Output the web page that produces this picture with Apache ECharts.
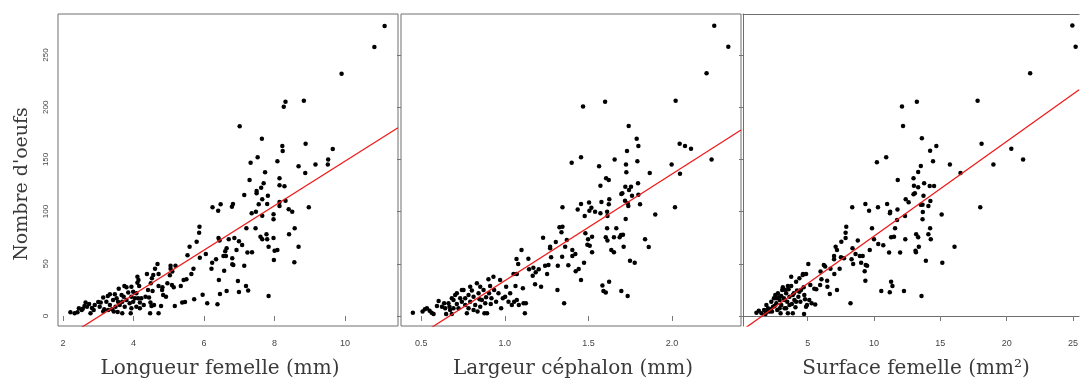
<!DOCTYPE html>
<html><head><meta charset="utf-8">
<script src="https://cdn.jsdelivr.net/npm/echarts@6/dist/echarts.min.js"></script>
<style>html,body{margin:0;padding:0;background:#fff}#c{width:1081px;height:381px}</style>
</head><body><div id="c"></div>
<script>
// ---------- data ----------
const yTicks = [0, 50, 100, 150, 200, 250];
const xTicksLongueur = [2, 4, 6, 8, 10];
const xTicksLargeur = [0.5, 1.0, 1.5, 2.0];
const xTicksSurface = [5, 10, 15, 20, 25];
const xTitles = ['Longueur femelle (mm)', 'Largeur céphalon (mm)', 'Surface femelle (mm²)'];
const yTitle = "Nombre d'oeufs";
// regression lines: [intercept, slope]
const fitLongueur = [-64.8, 21.32];
const fitLargeur = [-68.4, 102.2];
const fitSurface = [-14.25, 9.07];

const longueurPts = [
[11.12,277.8],[10.83,257.7],[9.90,232.1],[8.83,206.3],[8.31,205.3],[8.26,200.5],[7.01,181.7],[7.64,169.9],[8.88,165.1],[8.22,162.8],[8.23,158.1],[9.65,160.0],[7.52,152.0],[9.52,149.8],[8.08,148.2],[7.32,146.9],[9.16,145.0],[9.51,145.0],[8.68,143.4],[7.73,137.6],[8.87,137.0],[8.14,131.9],[7.29,130.3],[7.69,127.1],[8.14,125.2],[8.28,124.2],[7.62,122.9],[7.49,119.7],[7.49,117.5],[7.14,115.9],[7.81,115.3],[8.31,110.5],[7.65,111.8],[8.14,109.2],[8.14,105.4],[7.79,107.3],[7.55,107.0],[6.47,107.0],[6.82,107.3],[6.79,104.7],[6.24,104.1],[6.40,100.9],[8.40,102.2],[8.50,99.9],[8.97,104.1],[7.47,99.9],[7.35,98.3],[7.65,96.1],[7.97,97.4],[7.97,92.6],[7.20,84.0],[7.46,84.0],[8.57,84.0],[5.87,85.6],[5.86,79.8],[5.79,71.2],[5.59,66.4],[8.68,66.4],[7.83,66.4],[8.41,78.2],[7.77,78.2],[7.60,76.0],[7.65,73.4],[7.79,73.4],[7.97,74.7],[6.70,73.4],[6.86,74.7],[6.99,71.5],[6.41,74.7],[6.44,72.2],[7.08,68.0],[6.64,64.8],[6.92,63.2],[6.60,61.9],[7.23,60.7],[7.36,61.0],[8.00,62.6],[8.08,63.2],[6.55,57.5],[6.62,57.5],[5.53,58.1],[6.05,59.4],[5.88,55.9],[6.34,54.3],[6.80,55.2],[6.23,51.1],[6.80,49.5],[6.83,48.9],[7.98,53.6],[8.56,51.4],[7.14,48.2],[5.70,45.3],[6.21,45.3],[5.64,40.2],[6.57,43.4],[5.42,34.5],[5.50,35.1],[6.42,34.5],[6.96,33.5],[7.19,28.7],[7.25,24.3],[6.64,23.9],[6.99,23.0],[6.45,21.1],[7.83,19.2],[5.96,20.4],[5.72,16.0],[6.09,12.1],[6.38,11.2],[5.46,13.4],[5.38,12.8],[5.17,9.6],
[4.61,45.3],[4.68,49.8],[5.05,48.2],[5.05,45.3],[5.19,48.2],[5.10,42.5],[5.03,39.0],[4.38,40.2],[4.71,40.2],[4.56,39.3],[4.52,36.1],[4.11,37.7],[4.14,34.5],[4.11,31.9],[4.49,31.3],[4.96,31.3],[5.09,29.7],[5.34,28.7],[4.71,28.7],[4.82,27.5],[5.14,27.5],[4.81,24.9],[4.54,23.9],[4.41,24.9],[4.16,28.7],[3.94,28.1],[3.74,28.7],[3.80,27.5],[3.58,26.2],[3.33,20.8],[3.47,20.8],[3.27,19.2],[3.14,17.6],[3.00,13.4],[3.07,12.8],[2.74,11.5],[2.64,12.8],[2.87,5.7],[2.78,2.6],[2.21,3.5],[2.33,2.6],[2.41,3.5],[2.45,7.3],[2.53,5.7],[2.61,9.6],[2.68,8.9],[2.82,7.7],[2.56,7.0],[3.04,8.9],[3.17,6.4],[3.28,5.7],[3.39,6.4],[3.55,3.8],[3.68,2.6],[3.92,2.6],[3.49,8.9],[3.61,10.5],[3.68,13.7],[3.80,15.3],[3.89,12.1],[3.99,13.7],[4.04,16.9],[4.08,8.9],[4.18,12.8],[4.29,10.5],[4.44,17.6],[4.48,12.8],[4.51,9.6],[4.58,10.5],[4.47,2.6],[4.71,2.6],[4.78,9.6],[4.84,20.1],[4.92,18.5],[3.42,15.3],[3.52,16.9],[3.66,20.1],[3.85,22.4],[3.99,23.3],[4.08,21.7],[4.22,16.9],[4.34,18.5],[3.72,18.5],[3.23,13.7],[2.90,10.5],[3.56,13.7],[3.94,18.5],[4.13,16.9],[3.33,10.5],[3.75,8.9],[3.94,7.3],[4.18,7.3],[3.44,4.2],[3.14,4.2]
];

const largeurPts = [
[2.253,278.1],[2.337,258.0],[2.207,232.5],[2.022,206.3],[1.600,205.3],[1.468,200.8],[1.741,182.0],[1.789,169.9],[1.799,162.8],[2.046,165.1],[2.078,162.8],[2.114,160.3],[1.731,158.1],[1.456,152.0],[1.657,149.8],[1.793,148.2],[1.400,146.9],[1.998,145.0],[1.725,145.0],[1.564,143.4],[2.237,149.8],[1.727,137.6],[1.867,137.0],[2.048,136.3],[1.606,131.9],[1.622,130.3],[1.797,127.1],[1.572,124.8],[1.721,123.9],[1.755,123.9],[1.743,120.7],[1.703,117.5],[1.697,116.9],[1.761,115.3],[1.799,116.2],[1.625,111.8],[1.578,109.2],[1.456,107.3],[1.504,108.6],[1.719,110.5],[1.735,108.0],[1.739,105.4],[1.809,107.0],[1.622,107.0],[1.436,101.9],[1.345,104.1],[1.518,103.8],[1.506,100.9],[1.540,99.9],[1.572,98.3],[1.612,99.9],[1.614,95.8],[1.478,95.8],[1.900,97.1],[2.018,104.1],[1.723,92.9],[1.327,84.9],[1.345,85.6],[1.612,84.0],[1.667,84.0],[1.339,80.1],[1.482,79.2],[1.707,77.9],[1.695,77.6],[1.687,75.4],[1.653,75.4],[1.604,75.4],[1.522,76.0],[1.498,73.4],[1.229,75.0],[1.305,70.9],[1.371,72.8],[1.614,72.2],[1.494,68.3],[1.508,67.4],[1.271,66.4],[1.271,64.8],[1.361,66.4],[1.711,66.4],[1.839,73.4],[1.861,66.1],[1.637,63.2],[1.653,61.0],[1.100,63.2],[1.404,63.2],[1.522,61.0],[1.422,59.4],[1.404,57.5],[1.277,56.2],[1.343,56.8],[1.070,54.6],[1.141,54.9],[1.261,48.9],[1.241,48.2],[1.080,49.8],[1.749,53.0],[1.777,51.1],[1.317,48.2],[1.380,48.5],[1.474,51.1],[1.171,46.3],[1.145,44.7],[1.203,44.7],[1.185,41.8],[1.167,38.6],[1.253,40.2],[1.424,42.8],[1.442,45.0],[1.052,40.2],[1.072,40.2],[1.456,34.5],[1.181,30.3],[1.217,28.1],[1.315,24.9],[1.584,29.1],[1.624,32.9],[1.590,23.9],[1.604,22.4],[1.697,23.9],[1.735,19.2],[1.355,12.1],[1.120,2.6],[1.112,12.1],[1.126,12.1],
[0.450,3.2],[0.508,4.2],[0.522,6.4],[0.534,7.3],[0.550,5.1],[0.562,3.2],[0.574,1.9],[0.594,9.6],[0.604,14.4],[0.637,12.1],[0.643,7.3],[0.649,1.9],[0.663,12.1],[0.673,5.7],[0.683,1.9],[0.693,15.3],[0.703,20.1],[0.713,11.5],[0.723,7.3],[0.733,16.9],[0.743,13.7],[0.753,24.9],[0.763,16.9],[0.773,2.6],[0.783,20.1],[0.783,7.3],[0.793,13.7],[0.803,24.3],[0.813,18.5],[0.823,10.5],[0.833,31.3],[0.837,4.2],[0.843,21.7],[0.853,28.1],[0.863,15.3],[0.873,24.9],[0.878,2.6],[0.888,17.9],[0.894,2.6],[0.902,35.1],[0.906,21.7],[0.912,28.7],[0.916,11.5],[0.920,16.9],[0.932,37.7],[0.936,24.9],[0.948,13.7],[0.962,21.7],[0.972,34.5],[0.978,7.3],[0.988,16.9],[1.002,18.5],[1.008,28.1],[1.022,13.7],[1.032,21.7],[1.042,10.5],[1.056,13.7],[1.064,28.7],[1.072,15.3],[1.084,10.5],[1.108,26.5],[0.713,21.7],[0.743,24.9],[0.693,7.3],[0.813,5.7],[0.853,8.9],[0.883,12.1],[0.763,10.5],[0.669,8.9],[0.624,8.9],[0.683,16.9],[0.849,16.0],[0.793,28.1]
];

const surfacePts = [
[24.95,278.4],[25.20,258.0],[21.77,232.5],[17.81,206.3],[13.23,205.3],[12.11,200.8],[12.19,182.0],[13.61,170.2],[14.70,162.8],[18.11,165.1],[20.35,160.3],[14.23,158.4],[10.92,152.0],[10.22,147.2],[14.45,148.2],[15.72,145.0],[13.53,143.7],[21.24,149.8],[19.00,145.0],[13.33,137.9],[16.52,137.0],[12.98,131.9],[11.79,130.3],[13.78,127.1],[13.01,124.8],[13.33,123.3],[14.20,124.5],[14.53,124.5],[13.08,117.5],[12.98,116.5],[13.73,115.3],[12.39,111.8],[14.25,110.2],[12.61,108.9],[10.99,107.3],[9.35,107.3],[13.53,106.6],[13.66,106.6],[14.10,105.4],[8.36,104.1],[10.30,104.1],[18.01,104.1],[11.77,101.9],[11.22,99.9],[11.20,98.3],[9.63,100.9],[13.68,99.6],[12.34,95.8],[15.10,97.1],[13.66,92.6],[11.74,92.0],[7.91,85.6],[9.85,84.0],[11.59,84.0],[14.23,84.0],[7.86,79.8],[14.10,78.2],[13.18,78.2],[13.33,75.4],[11.29,75.4],[11.51,76.0],[14.28,73.4],[12.36,73.4],[7.86,74.7],[8.78,72.2],[10.00,73.4],[7.54,71.2],[10.32,69.0],[10.70,67.7],[7.11,66.4],[8.38,64.8],[16.07,66.4],[13.38,66.4],[7.21,63.2],[13.13,62.6],[9.68,63.2],[13.16,61.0],[11.14,60.7],[11.97,60.7],[8.61,59.4],[6.99,57.5],[8.93,57.5],[9.15,57.5],[7.51,56.2],[7.74,55.2],[6.99,54.3],[8.31,54.3],[13.91,53.0],[9.03,51.1],[8.43,49.8],[9.38,48.9],[9.48,48.2],[15.15,51.1],[5.05,49.8],[6.22,48.9],[6.32,47.3],[6.72,45.3],[7.41,45.3],[9.30,42.8],[5.97,42.5],[7.01,40.2],[4.65,40.2],[4.88,40.2],[9.35,33.8],[6.04,35.1],[6.47,33.8],[11.29,32.9],[5.94,29.7],[11.39,28.7],[6.49,28.1],[7.21,24.9],[10.55,23.9],[11.19,22.7],[12.26,23.9],[13.58,19.2],[6.67,21.1],[5.50,26.2],[5.65,25.5],[8.23,12.1],[4.73,1.9],[5.30,12.1],[5.57,10.9],
[1.14,3.2],[1.32,5.1],[1.52,2.6],[1.72,5.7],[1.82,1.9],[1.89,10.5],[2.01,7.3],[2.14,4.2],[2.26,13.7],[2.39,8.9],[2.46,16.9],[2.56,20.1],[2.64,12.1],[2.71,5.7],[2.76,21.7],[2.89,15.3],[2.96,2.6],[3.01,10.5],[3.08,24.9],[3.13,27.5],[3.21,16.9],[3.26,7.3],[3.38,21.7],[3.46,13.7],[3.51,2.6],[3.56,25.5],[3.63,18.5],[3.76,37.7],[3.81,11.5],[3.88,2.6],[3.96,21.7],[4.00,15.3],[4.08,8.3],[4.13,32.9],[4.20,24.3],[4.30,18.5],[4.38,36.1],[4.45,13.7],[4.63,39.3],[4.70,27.5],[4.80,16.0],[4.88,8.9],[4.95,10.5],[5.12,15.3],[5.20,29.7],[4.75,20.1],[4.38,23.3],[3.76,28.7],[3.51,28.7],[3.31,24.9],[3.01,19.2],[2.81,17.9],[2.51,9.6],[2.21,6.4],[1.97,4.2],[3.26,15.3],[3.63,10.5],[2.64,16.9],[4.13,13.7],[3.88,20.1],[4.50,24.9],[3.38,7.3],[2.89,7.3],[2.31,4.2]
];

// ---------- chart ----------
const BORDER = '#6e6e6e';
const panels = [
  {pts: longueurPts, ticks: xTicksLongueur, fit: fitLongueur, xmin: 1.858, xmax: 11.5, grid: {left: 58, top: 14, width: 340, height: 312}, box: true, showY: true, titleX: 220},
  {pts: largeurPts, ticks: xTicksLargeur, fit: fitLargeur, xmin: 0.379, xmax: 2.413, grid: {left: 401, top: 14, width: 340, height: 312}, box: true, showY: false, titleX: 573},
  {pts: surfacePts, ticks: xTicksSurface, fit: fitSurface, xmin: 0.127, xmax: 25.46, grid: {left: 743, top: 14, right: 0, height: 312}, box: false, showY: false, titleX: 916}
];
const yMin = -9.6, yMax = 289.3;
const labelFont = 'Liberation Sans, Arial, sans-serif';
const titleFont = 'DejaVu Serif, serif';
const titleColor = '#3a3a3a';

const xAxes = panels.map((p, i) => ({
  type: 'value', gridIndex: i, min: p.xmin, max: p.xmax, position: 'bottom',
  axisLine: {show: !p.box, lineStyle: {color: BORDER, width: 1}}, splitLine: {show: false},
  axisTick: {show: true, inside: false, length: 5, lineStyle: {color: '#777'}, customValues: p.ticks},
  axisLabel: {show: true, customValues: p.ticks, margin: 13, fontSize: 9, color: '#444', fontFamily: labelFont,
    formatter: v => (i === 1 ? v.toFixed(1) : String(v))}
}));
// top edge of the third (open-right) box
xAxes.push({type: 'value', gridIndex: 2, position: 'top', min: 0, max: 1,
  axisLine: {show: true, lineStyle: {color: BORDER, width: 1}}, axisTick: {show: false}, axisLabel: {show: false}, splitLine: {show: false}});

const option = {
  animation: false,
  backgroundColor: '#ffffff',
  grid: panels.map(p => Object.assign({show: p.box, borderColor: BORDER, borderWidth: 1, backgroundColor: 'transparent'}, p.grid)),
  xAxis: xAxes,
  yAxis: panels.map((p, i) => ({
    type: 'value', gridIndex: i, min: yMin, max: yMax,
    axisLine: {show: !p.box, lineStyle: {color: BORDER, width: 1}}, splitLine: {show: false},
    axisTick: {show: i > 0, inside: false, length: 4, lineStyle: {color: '#777'}, customValues: yTicks},
    axisLabel: {show: p.showY, customValues: yTicks, rotate: 90, margin: 8, fontSize: 8, color: '#444', fontFamily: labelFont}
  })),
  graphic: [].concat(
    panels.map((p, i) => ({
      type: 'text', x: p.titleX, y: 369, silent: true,
      style: {text: xTitles[i], font: '20px ' + titleFont, fill: titleColor, textAlign: 'center', textVerticalAlign: 'middle'}
    })),
    [{type: 'text', x: 22, y: 184, rotation: Math.PI / 2, silent: true,
      style: {text: yTitle, font: '19px ' + titleFont, fill: titleColor, textAlign: 'center', textVerticalAlign: 'middle'}}]
  ),
  series: [].concat(
    panels.map((p, i) => ({
      type: 'scatter', xAxisIndex: i, yAxisIndex: i, data: p.pts,
      symbol: 'circle', symbolSize: 4.5, itemStyle: {color: '#000', opacity: 1}, silent: true
    })),
    panels.map((p, i) => ({
      type: 'line', xAxisIndex: i, yAxisIndex: i, clip: true, symbol: 'none', silent: true,
      lineStyle: {color: '#ee1c1c', width: 1.3},
      data: [[p.xmin, p.fit[0] + p.fit[1] * p.xmin], [p.xmax, p.fit[0] + p.fit[1] * p.xmax]]
    }))
  )
};
const chart = echarts.init(document.getElementById('c'), null, {renderer: 'canvas'});
chart.setOption(option);
</script></body></html>
